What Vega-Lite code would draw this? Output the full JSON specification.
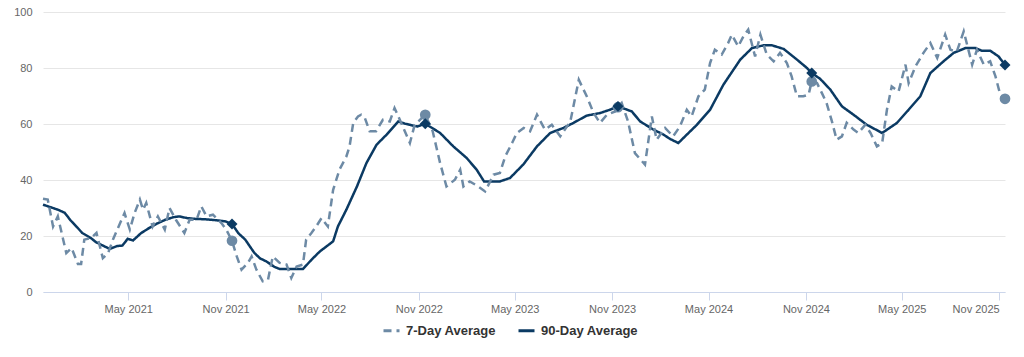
{
  "$schema": "https://vega.github.io/schema/vega-lite/v6.json",
  "width": 962,
  "height": 280,
  "autosize": {"type": "none"},
  "padding": {"left": 43, "top": 12, "right": 19, "bottom": 65},
  "background": "white",
  "config": {"view": {"stroke": null}, "font": "Liberation Sans"},
  "datasets": {
    "lines": [
      {"d":"2020-11-21","s":"90-Day Average","v":31.2},
      {"d":"2020-12-05","s":"90-Day Average","v":30.3},
      {"d":"2020-12-19","s":"90-Day Average","v":29.4},
      {"d":"2021-01-01","s":"90-Day Average","v":28.3},
      {"d":"2021-01-12","s":"90-Day Average","v":25.6},
      {"d":"2021-01-25","s":"90-Day Average","v":23.0},
      {"d":"2021-02-03","s":"90-Day Average","v":21.1},
      {"d":"2021-02-20","s":"90-Day Average","v":19.2},
      {"d":"2021-03-01","s":"90-Day Average","v":17.8},
      {"d":"2021-03-15","s":"90-Day Average","v":16.5},
      {"d":"2021-03-27","s":"90-Day Average","v":15.4},
      {"d":"2021-04-10","s":"90-Day Average","v":16.4},
      {"d":"2021-04-20","s":"90-Day Average","v":16.6},
      {"d":"2021-04-30","s":"90-Day Average","v":19.0},
      {"d":"2021-05-10","s":"90-Day Average","v":18.4},
      {"d":"2021-05-25","s":"90-Day Average","v":21.0},
      {"d":"2021-06-10","s":"90-Day Average","v":22.9},
      {"d":"2021-06-25","s":"90-Day Average","v":24.5},
      {"d":"2021-07-10","s":"90-Day Average","v":25.8},
      {"d":"2021-07-25","s":"90-Day Average","v":26.7},
      {"d":"2021-08-05","s":"90-Day Average","v":27.0},
      {"d":"2021-08-20","s":"90-Day Average","v":26.4},
      {"d":"2021-09-05","s":"90-Day Average","v":26.1},
      {"d":"2021-09-20","s":"90-Day Average","v":26.0},
      {"d":"2021-10-05","s":"90-Day Average","v":25.8},
      {"d":"2021-10-20","s":"90-Day Average","v":25.5},
      {"d":"2021-11-01","s":"90-Day Average","v":25.2},
      {"d":"2021-11-13","s":"90-Day Average","v":24.3},
      {"d":"2021-11-25","s":"90-Day Average","v":21.0},
      {"d":"2021-12-08","s":"90-Day Average","v":18.7},
      {"d":"2021-12-25","s":"90-Day Average","v":14.0},
      {"d":"2022-01-05","s":"90-Day Average","v":12.0},
      {"d":"2022-01-17","s":"90-Day Average","v":10.9},
      {"d":"2022-02-01","s":"90-Day Average","v":9.0},
      {"d":"2022-02-11","s":"90-Day Average","v":8.2},
      {"d":"2022-03-01","s":"90-Day Average","v":8.2},
      {"d":"2022-03-27","s":"90-Day Average","v":8.2},
      {"d":"2022-04-12","s":"90-Day Average","v":11.5},
      {"d":"2022-04-28","s":"90-Day Average","v":14.5},
      {"d":"2022-05-12","s":"90-Day Average","v":16.5},
      {"d":"2022-05-23","s":"90-Day Average","v":18.1},
      {"d":"2022-06-01","s":"90-Day Average","v":23.4},
      {"d":"2022-06-17","s":"90-Day Average","v":29.4},
      {"d":"2022-07-07","s":"90-Day Average","v":37.7},
      {"d":"2022-07-25","s":"90-Day Average","v":46.1},
      {"d":"2022-08-13","s":"90-Day Average","v":52.6},
      {"d":"2022-09-01","s":"90-Day Average","v":56.2},
      {"d":"2022-09-23","s":"90-Day Average","v":60.9},
      {"d":"2022-10-06","s":"90-Day Average","v":60.1},
      {"d":"2022-10-15","s":"90-Day Average","v":59.7},
      {"d":"2022-10-29","s":"90-Day Average","v":59.1},
      {"d":"2022-11-13","s":"90-Day Average","v":60.1},
      {"d":"2022-12-11","s":"90-Day Average","v":56.8},
      {"d":"2023-01-05","s":"90-Day Average","v":52.0},
      {"d":"2023-01-30","s":"90-Day Average","v":47.9},
      {"d":"2023-02-18","s":"90-Day Average","v":43.7},
      {"d":"2023-03-04","s":"90-Day Average","v":39.5},
      {"d":"2023-04-03","s":"90-Day Average","v":39.5},
      {"d":"2023-04-22","s":"90-Day Average","v":40.7},
      {"d":"2023-05-17","s":"90-Day Average","v":45.5},
      {"d":"2023-06-12","s":"90-Day Average","v":52.0},
      {"d":"2023-07-07","s":"90-Day Average","v":56.8},
      {"d":"2023-08-01","s":"90-Day Average","v":58.6},
      {"d":"2023-08-20","s":"90-Day Average","v":60.4},
      {"d":"2023-09-14","s":"90-Day Average","v":63.0},
      {"d":"2023-10-09","s":"90-Day Average","v":63.9},
      {"d":"2023-10-28","s":"90-Day Average","v":65.1},
      {"d":"2023-11-12","s":"90-Day Average","v":66.3},
      {"d":"2023-12-08","s":"90-Day Average","v":64.5},
      {"d":"2023-12-24","s":"90-Day Average","v":60.9},
      {"d":"2024-01-18","s":"90-Day Average","v":58.0},
      {"d":"2024-02-06","s":"90-Day Average","v":56.2},
      {"d":"2024-02-19","s":"90-Day Average","v":54.6},
      {"d":"2024-03-05","s":"90-Day Average","v":53.2},
      {"d":"2024-03-21","s":"90-Day Average","v":56.2},
      {"d":"2024-04-09","s":"90-Day Average","v":59.7},
      {"d":"2024-05-04","s":"90-Day Average","v":65.1},
      {"d":"2024-05-29","s":"90-Day Average","v":74.0},
      {"d":"2024-06-30","s":"90-Day Average","v":83.0},
      {"d":"2024-07-22","s":"90-Day Average","v":87.1},
      {"d":"2024-08-13","s":"90-Day Average","v":88.1},
      {"d":"2024-08-29","s":"90-Day Average","v":88.1},
      {"d":"2024-09-20","s":"90-Day Average","v":86.8},
      {"d":"2024-10-15","s":"90-Day Average","v":83.0},
      {"d":"2024-11-03","s":"90-Day Average","v":80.0},
      {"d":"2024-11-12","s":"90-Day Average","v":78.2},
      {"d":"2024-11-28","s":"90-Day Average","v":76.1},
      {"d":"2024-12-17","s":"90-Day Average","v":72.3},
      {"d":"2025-01-08","s":"90-Day Average","v":66.3},
      {"d":"2025-01-30","s":"90-Day Average","v":63.3},
      {"d":"2025-02-24","s":"90-Day Average","v":59.7},
      {"d":"2025-03-25","s":"90-Day Average","v":56.8},
      {"d":"2025-04-22","s":"90-Day Average","v":60.4},
      {"d":"2025-05-14","s":"90-Day Average","v":65.1},
      {"d":"2025-06-05","s":"90-Day Average","v":69.9},
      {"d":"2025-06-24","s":"90-Day Average","v":78.2},
      {"d":"2025-07-19","s":"90-Day Average","v":82.4},
      {"d":"2025-08-07","s":"90-Day Average","v":85.4},
      {"d":"2025-08-29","s":"90-Day Average","v":87.1},
      {"d":"2025-09-17","s":"90-Day Average","v":87.1},
      {"d":"2025-09-29","s":"90-Day Average","v":86.2},
      {"d":"2025-10-15","s":"90-Day Average","v":86.2},
      {"d":"2025-10-31","s":"90-Day Average","v":84.1},
      {"d":"2025-11-12","s":"90-Day Average","v":81.1},
      {"d":"2020-11-21","s":"7-Day Average","v":33.3},
      {"d":"2020-11-30","s":"7-Day Average","v":33.0},
      {"d":"2020-12-10","s":"7-Day Average","v":23.4},
      {"d":"2020-12-19","s":"7-Day Average","v":27.0},
      {"d":"2021-01-04","s":"7-Day Average","v":13.9},
      {"d":"2021-01-14","s":"7-Day Average","v":15.7},
      {"d":"2021-01-26","s":"7-Day Average","v":10.0},
      {"d":"2021-02-01","s":"7-Day Average","v":10.0},
      {"d":"2021-02-07","s":"7-Day Average","v":18.7},
      {"d":"2021-02-20","s":"7-Day Average","v":19.3},
      {"d":"2021-03-02","s":"7-Day Average","v":21.1},
      {"d":"2021-03-14","s":"7-Day Average","v":12.1},
      {"d":"2021-03-24","s":"7-Day Average","v":13.9},
      {"d":"2021-04-02","s":"7-Day Average","v":18.7},
      {"d":"2021-04-24","s":"7-Day Average","v":28.2},
      {"d":"2021-05-04","s":"7-Day Average","v":22.3},
      {"d":"2021-05-13","s":"7-Day Average","v":28.2},
      {"d":"2021-05-23","s":"7-Day Average","v":33.0},
      {"d":"2021-05-29","s":"7-Day Average","v":29.4},
      {"d":"2021-06-04","s":"7-Day Average","v":31.8},
      {"d":"2021-06-16","s":"7-Day Average","v":23.4},
      {"d":"2021-06-26","s":"7-Day Average","v":27.0},
      {"d":"2021-07-09","s":"7-Day Average","v":22.3},
      {"d":"2021-07-18","s":"7-Day Average","v":30.0},
      {"d":"2021-07-30","s":"7-Day Average","v":25.8},
      {"d":"2021-08-15","s":"7-Day Average","v":21.1},
      {"d":"2021-08-25","s":"7-Day Average","v":25.8},
      {"d":"2021-09-07","s":"7-Day Average","v":25.8},
      {"d":"2021-09-16","s":"7-Day Average","v":30.6},
      {"d":"2021-09-26","s":"7-Day Average","v":27.0},
      {"d":"2021-10-08","s":"7-Day Average","v":27.6},
      {"d":"2021-10-24","s":"7-Day Average","v":24.6},
      {"d":"2021-11-02","s":"7-Day Average","v":22.3},
      {"d":"2021-11-13","s":"7-Day Average","v":18.3},
      {"d":"2021-11-22","s":"7-Day Average","v":12.7},
      {"d":"2021-12-01","s":"7-Day Average","v":8.0},
      {"d":"2021-12-13","s":"7-Day Average","v":10.4},
      {"d":"2021-12-20","s":"7-Day Average","v":12.7},
      {"d":"2021-12-29","s":"7-Day Average","v":8.0},
      {"d":"2022-01-10","s":"7-Day Average","v":3.8},
      {"d":"2022-01-20","s":"7-Day Average","v":4.4},
      {"d":"2022-01-29","s":"7-Day Average","v":12.7},
      {"d":"2022-02-11","s":"7-Day Average","v":10.4},
      {"d":"2022-02-24","s":"7-Day Average","v":9.8},
      {"d":"2022-03-05","s":"7-Day Average","v":5.0},
      {"d":"2022-03-15","s":"7-Day Average","v":9.1},
      {"d":"2022-03-27","s":"7-Day Average","v":9.8},
      {"d":"2022-04-02","s":"7-Day Average","v":18.7},
      {"d":"2022-04-12","s":"7-Day Average","v":21.1},
      {"d":"2022-04-21","s":"7-Day Average","v":23.4},
      {"d":"2022-05-01","s":"7-Day Average","v":26.4},
      {"d":"2022-05-13","s":"7-Day Average","v":23.4},
      {"d":"2022-05-23","s":"7-Day Average","v":36.5},
      {"d":"2022-06-04","s":"7-Day Average","v":43.7},
      {"d":"2022-06-17","s":"7-Day Average","v":48.4},
      {"d":"2022-06-23","s":"7-Day Average","v":52.0},
      {"d":"2022-06-30","s":"7-Day Average","v":60.4},
      {"d":"2022-07-09","s":"7-Day Average","v":62.7},
      {"d":"2022-07-15","s":"7-Day Average","v":63.3},
      {"d":"2022-07-22","s":"7-Day Average","v":62.1},
      {"d":"2022-07-31","s":"7-Day Average","v":57.4},
      {"d":"2022-08-12","s":"7-Day Average","v":57.4},
      {"d":"2022-08-25","s":"7-Day Average","v":61.5},
      {"d":"2022-09-07","s":"7-Day Average","v":60.9},
      {"d":"2022-09-16","s":"7-Day Average","v":65.7},
      {"d":"2022-09-26","s":"7-Day Average","v":61.5},
      {"d":"2022-10-15","s":"7-Day Average","v":53.2},
      {"d":"2022-10-24","s":"7-Day Average","v":59.7},
      {"d":"2022-11-13","s":"7-Day Average","v":63.3},
      {"d":"2022-11-27","s":"7-Day Average","v":57.4},
      {"d":"2022-12-11","s":"7-Day Average","v":46.1},
      {"d":"2022-12-23","s":"7-Day Average","v":37.7},
      {"d":"2023-01-08","s":"7-Day Average","v":40.1},
      {"d":"2023-01-18","s":"7-Day Average","v":43.7},
      {"d":"2023-01-24","s":"7-Day Average","v":37.7},
      {"d":"2023-02-05","s":"7-Day Average","v":39.5},
      {"d":"2023-02-21","s":"7-Day Average","v":37.7},
      {"d":"2023-03-06","s":"7-Day Average","v":35.9},
      {"d":"2023-03-22","s":"7-Day Average","v":41.9},
      {"d":"2023-04-03","s":"7-Day Average","v":42.5},
      {"d":"2023-04-13","s":"7-Day Average","v":48.4},
      {"d":"2023-04-26","s":"7-Day Average","v":53.2},
      {"d":"2023-05-05","s":"7-Day Average","v":56.8},
      {"d":"2023-05-18","s":"7-Day Average","v":58.6},
      {"d":"2023-05-30","s":"7-Day Average","v":57.4},
      {"d":"2023-06-12","s":"7-Day Average","v":63.3},
      {"d":"2023-06-27","s":"7-Day Average","v":58.0},
      {"d":"2023-07-10","s":"7-Day Average","v":59.7},
      {"d":"2023-07-26","s":"7-Day Average","v":55.6},
      {"d":"2023-08-14","s":"7-Day Average","v":60.9},
      {"d":"2023-08-30","s":"7-Day Average","v":75.8},
      {"d":"2023-09-14","s":"7-Day Average","v":69.9},
      {"d":"2023-09-27","s":"7-Day Average","v":63.9},
      {"d":"2023-10-09","s":"7-Day Average","v":60.4},
      {"d":"2023-10-22","s":"7-Day Average","v":63.3},
      {"d":"2023-11-07","s":"7-Day Average","v":64.5},
      {"d":"2023-11-12","s":"7-Day Average","v":66.0},
      {"d":"2023-11-19","s":"7-Day Average","v":67.5},
      {"d":"2023-12-01","s":"7-Day Average","v":60.9},
      {"d":"2023-12-14","s":"7-Day Average","v":49.6},
      {"d":"2024-01-02","s":"7-Day Average","v":45.5},
      {"d":"2024-01-15","s":"7-Day Average","v":62.7},
      {"d":"2024-01-24","s":"7-Day Average","v":54.4},
      {"d":"2024-02-09","s":"7-Day Average","v":58.6},
      {"d":"2024-02-24","s":"7-Day Average","v":55.6},
      {"d":"2024-03-08","s":"7-Day Average","v":59.1},
      {"d":"2024-03-21","s":"7-Day Average","v":65.1},
      {"d":"2024-03-30","s":"7-Day Average","v":62.7},
      {"d":"2024-04-12","s":"7-Day Average","v":69.9},
      {"d":"2024-04-24","s":"7-Day Average","v":72.3},
      {"d":"2024-05-04","s":"7-Day Average","v":81.8},
      {"d":"2024-05-13","s":"7-Day Average","v":86.5},
      {"d":"2024-05-26","s":"7-Day Average","v":84.8},
      {"d":"2024-06-07","s":"7-Day Average","v":88.9},
      {"d":"2024-06-14","s":"7-Day Average","v":91.9},
      {"d":"2024-06-26","s":"7-Day Average","v":87.7},
      {"d":"2024-07-06","s":"7-Day Average","v":91.3},
      {"d":"2024-07-15","s":"7-Day Average","v":93.7},
      {"d":"2024-07-28","s":"7-Day Average","v":84.1},
      {"d":"2024-08-07","s":"7-Day Average","v":91.9},
      {"d":"2024-08-19","s":"7-Day Average","v":84.8},
      {"d":"2024-09-01","s":"7-Day Average","v":82.4},
      {"d":"2024-09-13","s":"7-Day Average","v":85.4},
      {"d":"2024-09-26","s":"7-Day Average","v":81.8},
      {"d":"2024-10-05","s":"7-Day Average","v":77.0},
      {"d":"2024-10-15","s":"7-Day Average","v":69.9},
      {"d":"2024-10-27","s":"7-Day Average","v":69.9},
      {"d":"2024-11-06","s":"7-Day Average","v":70.5},
      {"d":"2024-11-12","s":"7-Day Average","v":75.2},
      {"d":"2024-11-22","s":"7-Day Average","v":74.6},
      {"d":"2024-12-01","s":"7-Day Average","v":71.1},
      {"d":"2024-12-10","s":"7-Day Average","v":67.5},
      {"d":"2024-12-20","s":"7-Day Average","v":61.0},
      {"d":"2024-12-29","s":"7-Day Average","v":54.4},
      {"d":"2025-01-08","s":"7-Day Average","v":55.6},
      {"d":"2025-01-17","s":"7-Day Average","v":60.4},
      {"d":"2025-01-30","s":"7-Day Average","v":58.0},
      {"d":"2025-02-08","s":"7-Day Average","v":56.8},
      {"d":"2025-02-21","s":"7-Day Average","v":59.7},
      {"d":"2025-03-03","s":"7-Day Average","v":56.8},
      {"d":"2025-03-15","s":"7-Day Average","v":52.0},
      {"d":"2025-03-25","s":"7-Day Average","v":53.2},
      {"d":"2025-04-03","s":"7-Day Average","v":65.1},
      {"d":"2025-04-12","s":"7-Day Average","v":73.4},
      {"d":"2025-04-25","s":"7-Day Average","v":71.6},
      {"d":"2025-05-08","s":"7-Day Average","v":81.2},
      {"d":"2025-05-14","s":"7-Day Average","v":74.6},
      {"d":"2025-05-27","s":"7-Day Average","v":80.6},
      {"d":"2025-06-11","s":"7-Day Average","v":85.4},
      {"d":"2025-06-24","s":"7-Day Average","v":88.9},
      {"d":"2025-07-07","s":"7-Day Average","v":83.6},
      {"d":"2025-07-22","s":"7-Day Average","v":91.9},
      {"d":"2025-08-01","s":"7-Day Average","v":86.5},
      {"d":"2025-08-13","s":"7-Day Average","v":85.9},
      {"d":"2025-08-26","s":"7-Day Average","v":93.1},
      {"d":"2025-09-11","s":"7-Day Average","v":81.2},
      {"d":"2025-09-20","s":"7-Day Average","v":86.5},
      {"d":"2025-10-03","s":"7-Day Average","v":81.2},
      {"d":"2025-10-15","s":"7-Day Average","v":82.4},
      {"d":"2025-10-25","s":"7-Day Average","v":77.0},
      {"d":"2025-11-03","s":"7-Day Average","v":70.5},
      {"d":"2025-11-12","s":"7-Day Average","v":69.0}
    ],
    "marks7": [
      {"d":"2021-11-13","v":18.3},
      {"d":"2022-11-13","v":63.3},
      {"d":"2023-11-12","v":66.0},
      {"d":"2024-11-12","v":75.2},
      {"d":"2025-11-12","v":69.0}
    ],
    "marks90": [
      {"d":"2021-11-13","v":24.3},
      {"d":"2022-11-13","v":60.1},
      {"d":"2023-11-12","v":66.3},
      {"d":"2024-11-12","v":78.2},
      {"d":"2025-11-12","v":81.1}
    ]
  },
  "layer": [
    {
      "data": {"name": "lines"},
      "mark": {"type": "line", "strokeWidth": 2.5},
      "encoding": {
        "x": {
          "field": "d", "type": "temporal",
          "scale": {"type": "utc", "domain": [{"year": 2020, "month": 11, "date": 21, "utc": true}, {"year": 2025, "month": 11, "date": 12, "utc": true}]},
          "axis": {
            "title": null, "grid": false, "labelExpr": "utcFormat(datum.value, '%b %Y')",
            "labelAlign": {"expr": "datum.value > 1758000000000 ? 'right' : 'center'"},
            "labelDx": {"expr": "datum.value > 1758000000000 ? 4 : 0"},
            "values": [
              {"year": 2021, "month": 5, "date": 1, "utc": true},
              {"year": 2021, "month": 11, "date": 1, "utc": true},
              {"year": 2022, "month": 5, "date": 1, "utc": true},
              {"year": 2022, "month": 11, "date": 1, "utc": true},
              {"year": 2023, "month": 5, "date": 1, "utc": true},
              {"year": 2023, "month": 11, "date": 1, "utc": true},
              {"year": 2024, "month": 5, "date": 1, "utc": true},
              {"year": 2024, "month": 11, "date": 1, "utc": true},
              {"year": 2025, "month": 5, "date": 1, "utc": true},
              {"year": 2025, "month": 11, "date": 1, "utc": true}
            ],
            "domainColor": "#ccd6eb", "tickColor": "#ccd6eb", "tickSize": 8,
            "labelColor": "#666666", "labelFontSize": 11, "labelPadding": 3, "labelFlush": false
          }
        },
        "y": {
          "field": "v", "type": "quantitative",
          "scale": {"domain": [0, 100], "nice": false, "zero": true},
          "axis": {
            "title": null, "values": [0, 20, 40, 60, 80, 100], "domain": false, "ticks": false,
            "gridColor": "#e6e6e6", "labelColor": "#666666", "labelFontSize": 11, "labelPadding": 11
          }
        },
        "color": {
          "field": "s", "type": "nominal",
          "scale": {"domain": ["7-Day Average", "90-Day Average"], "range": ["#6d8aa5", "#0b3a63"]},
          "legend": {
            "title": null, "orient": "none", "direction": "horizontal", "legendX": 339, "legendY": 309,
            "symbolType": "stroke", "symbolSize": 256, "symbolStrokeWidth": 3, "labelOffset": 5, "columnPadding": 16,
            "labelFont": "Liberation Sans", "labelFontSize": 13, "labelFontWeight": "bold", "labelColor": "#333333"
          }
        },
        "strokeDash": {
          "field": "s", "type": "nominal",
          "scale": {"domain": ["7-Day Average", "90-Day Average"], "range": [[8, 5], [1, 0]]},
          "legend": {
            "title": null, "orient": "none", "direction": "horizontal", "legendX": 339, "legendY": 309,
            "symbolType": "stroke", "symbolSize": 256, "symbolStrokeWidth": 3, "labelOffset": 5, "columnPadding": 16,
            "labelFont": "Liberation Sans", "labelFontSize": 13, "labelFontWeight": "bold", "labelColor": "#333333"
          }
        }
      }
    },
    {
      "data": {"name": "marks7"},
      "mark": {"type": "point", "shape": "circle", "filled": true, "size": 115, "color": "#6d8aa5", "opacity": 1},
      "encoding": {
        "x": {"field": "d", "type": "temporal"},
        "y": {"field": "v", "type": "quantitative"}
      }
    },
    {
      "data": {"name": "marks90"},
      "mark": {"type": "point", "shape": "diamond", "filled": true, "size": 120, "color": "#0b3a63", "opacity": 1},
      "encoding": {
        "x": {"field": "d", "type": "temporal"},
        "y": {"field": "v", "type": "quantitative"}
      }
    }
  ]
}
